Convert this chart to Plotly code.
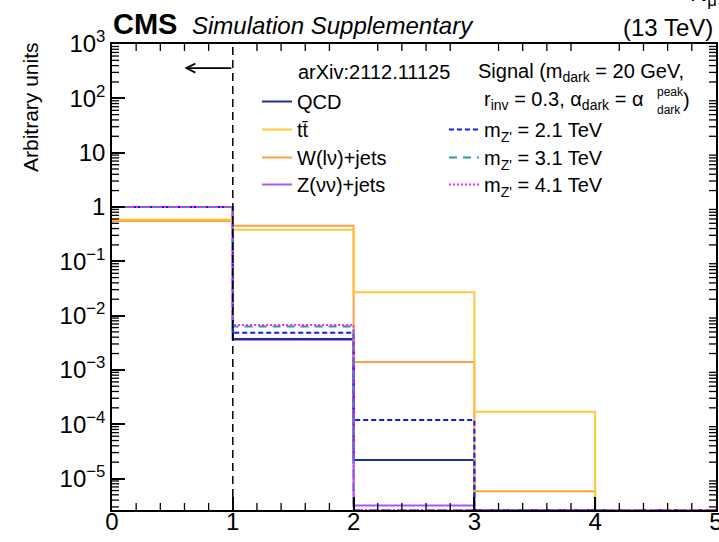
import plotly.graph_objects as go
import math

# ---------------- data ----------------
edges = [0, 1, 2, 3, 4, 5]
qcd = [0.996, 3.7e-3, 2.2e-5, 0, 0]
ttbar = [0.59, 0.38, 2.7e-2, 1.7e-4, 0]
wjets = [0.55, 0.45, 1.4e-3, 5.8e-6, 0]
zjets = [0.996, 3.6e-3, 3.2e-6, 0, 0]
sig21 = [0.995, 4.8e-3, 1.2e-4, 0, 0]
sig31 = [0.994, 6.3e-3, 0, 0, 0]
sig41 = [0.993, 6.7e-3, 0, 0, 0]

cut_value = 1
arrow_tip_x = 0.6
arrow_y = 360

xtick_vals = [0, 1, 2, 3, 4, 5]
xminor_vals = [i / 5 for i in range(0, 26) if i % 5]
ytick_vals = [1e-5, 1e-4, 1e-3, 1e-2, 1e-1, 1, 10, 100, 1000]
ytick_text = ["10<sup>−5</sup>", "10<sup>−4</sup>", "10<sup>−3</sup>", "10<sup>−2</sup>",
              "10<sup>−1</sup>", "1", "10", "10<sup>2</sup>", "10<sup>3</sup>"]
yminor_vals = [k * 10 ** e for e in range(-6, 3) for k in range(2, 10)]

ylog_min, ylog_max = -5.58, 3.0
floor = 10 ** ylog_min

FONT = "Liberation Sans, Arial, Helvetica, sans-serif"

# plot-area geometry (pixels)
W, H = 719, 542
L, R, T, B = 112, 3, 44, 32
PW, PH = W - L - R, H - T - B


def px(x):
    return (x - L) / PW


def py(y):
    return 1 - (y - T) / PH


def step(vals):
    v = [max(a, floor) for a in vals]
    return edges, v + [v[-1]]


fig = go.Figure()

series = [
    ("Z(νν)+jets", zjets, "#a259ff", "solid", "legend4", 297, 183),
    ("QCD", qcd, "#1f2a9e", "solid", "legend", 297, 100),
    ("W(lν)+jets", wjets, "#ff9f43", "solid", "legend3", 297, 156),
    ("tt\u0304", ttbar, "#ffc934", "solid", "legend2", 297, 128),
    ("m<sub>Z'</sub> = 2.1 TeV", sig21, "#0a1cff", "5px,3px", "legend5", 484, 128),
    ("m<sub>Z'</sub> = 3.1 TeV", sig31, "#1aa39a", "8px,6px", "legend6", 484, 156),
    ("m<sub>Z'</sub> = 4.1 TeV", sig41, "#ff22ff", "2px,2px", "legend7", 484, 183),
]
legends = {}
legend_common = dict(bgcolor="rgba(0,0,0,0)", borderwidth=0,
                     font=dict(family=FONT, size=20, color="black"),
                     xanchor="left", yanchor="top", itemwidth=30)
for name, vals, col, dash, lg, lx, ly in series:
    xs, ys = step(vals)
    fig.add_trace(go.Scatter(
        x=xs, y=ys, mode="lines", name=name,
        line=dict(color=col, width=2, dash=dash, shape="hv"),
        legend=lg, hoverinfo="skip",
    ))
    legends[lg] = dict(x=px(lx - 40), y=py(ly - 18), **legend_common)

fig.add_vline(x=cut_value, line=dict(color="black", width=1.5, dash="8px,5px"))

fig.add_annotation(x=arrow_tip_x, y=math.log10(arrow_y), ax=cut_value, ay=math.log10(arrow_y),
                   xref="x", yref="y", axref="x", ayref="y", text="", showarrow=True,
                   arrowhead=5, arrowsize=1.1, arrowwidth=1.6, arrowcolor="black")

# minor ticks (inside, on all four sides)
MINLEN = 7
tick_line = dict(color="black", width=1.3)
for v in xminor_vals:
    fig.add_shape(type="line", xref="x", yref="paper", x0=v, x1=v, y0=0, y1=MINLEN / PH,
                  line=tick_line, layer="above")
    fig.add_shape(type="line", xref="x", yref="paper", x0=v, x1=v, y0=1, y1=1 - MINLEN / PH,
                  line=tick_line, layer="above")
for v in yminor_vals:
    f = (math.log10(v) - ylog_min) / (ylog_max - ylog_min)
    if 0 < f < 1:
        fig.add_shape(type="line", xref="paper", yref="paper", x0=0, x1=MINLEN / PW, y0=f, y1=f,
                      line=tick_line, layer="above")
        fig.add_shape(type="line", xref="paper", yref="paper", x0=1, x1=1 - MINLEN / PW, y0=f,
                      y1=f, line=tick_line, layer="above")

tickfont = dict(family=FONT, size=24, color="black")

fig.update_layout(
    width=W, height=H,
    margin=dict(l=L, r=R, t=T, b=B, pad=0),
    paper_bgcolor="white", plot_bgcolor="white",
    showlegend=True,
    font=dict(family=FONT, color="black"),
    xaxis=dict(range=[0, 5.0005], tickmode="array", tickvals=xtick_vals,
               ticks="inside", ticklen=13, tickwidth=1.5, tickcolor="black",
               showline=True, linecolor="black", linewidth=1.5, mirror=True,
               showgrid=False, zeroline=False, automargin=False,
               ticklabelstandoff=-11, ticklabeloverflow="allow", tickfont=tickfont),
    yaxis=dict(type="log", range=[ylog_min, ylog_max], tickmode="array",
               tickvals=ytick_vals, ticktext=ytick_text,
               ticks="inside", ticklen=13, tickwidth=1.5, tickcolor="black",
               showline=True, linecolor="black", linewidth=1.5, mirror=True,
               showgrid=False, zeroline=False, automargin=False, tickfont=tickfont),
    **legends,
)

ann = []
ann.append(dict(text="Arbitrary units", textangle=-90, x=px(30), y=py(40), xanchor="center",
                yanchor="top", font=dict(size=21)))
ann.append(dict(text="<b>CMS</b>", x=px(111), y=py(24), xanchor="left", yanchor="middle",
                font=dict(size=29)))
ann.append(dict(text="<i>Simulation Supplementary</i>", x=px(190), y=py(26), xanchor="left",
                yanchor="middle", font=dict(size=24)))
ann.append(dict(text="(13 TeV)", x=px(715), y=py(27), xanchor="right", yanchor="middle",
                font=dict(size=24)))
ann.append(dict(text="N<sub>μ</sub>", x=px(719), y=py(-6), xanchor="right", yanchor="middle",
                font=dict(size=24)))
ann.append(dict(text="arXiv:2112.11125", x=px(296), y=py(72), xanchor="left", yanchor="middle",
                font=dict(size=20)))
ann.append(dict(text="Signal (m<sub>dark</sub> = 20 GeV,", x=px(476), y=py(72), xanchor="left",
                yanchor="middle", font=dict(size=20)))
ann.append(dict(text="r<sub>inv</sub> = 0.3, α<sub>dark</sub> = α", x=px(482), y=py(100),
                xanchor="left", yanchor="middle", font=dict(size=20)))
ann.append(dict(text="peak", x=px(655), y=py(92), xanchor="left", yanchor="middle",
                font=dict(size=12)))
ann.append(dict(text="dark", x=px(655), y=py(110), xanchor="left", yanchor="middle",
                font=dict(size=12)))
ann.append(dict(text=")", x=px(681), y=py(100), xanchor="left", yanchor="middle",
                font=dict(size=20)))
for a in ann:
    a.setdefault("xref", "paper")
    a.setdefault("yref", "paper")
    a["showarrow"] = False
    a["font"] = dict(family=FONT, color="black", **a["font"])
    fig.add_annotation(**a)

fig.write_html("out.html")
